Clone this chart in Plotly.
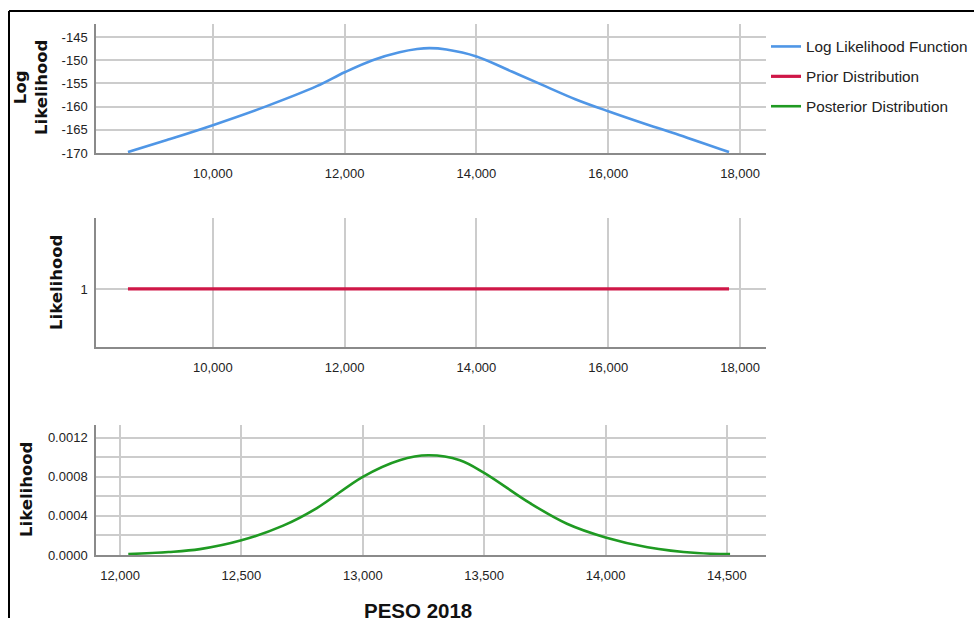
import plotly.graph_objects as go

# Log likelihood function over PESO 2018
loglik_x = [8712, 9303, 10000, 10818, 11576, 12000, 12424, 12833, 13100, 13288,
            13545, 14000, 14545, 15060, 15500, 16000, 16576, 17076, 17833]
loglik_y = [-169.8, -167.2, -164.0, -159.9, -155.6, -152.6, -150.0, -148.3, -147.6, -147.4,
            -147.7, -149.2, -152.5, -155.7, -158.4, -161.0, -163.8, -166.1, -169.8]

# Prior distribution (flat)
prior_x = [8712, 17833]
prior_y = [1, 1]

# Posterior distribution
post_x = [12034, 12200, 12329, 12500, 12672, 12811, 13000, 13152, 13270, 13400,
          13500, 13689, 13841, 14000, 14173, 14377, 14513]
post_y = [0.00001, 0.00003, 0.00006, 0.00015, 0.00030, 0.00048, 0.00080, 0.00097, 0.00102, 0.00097,
          0.00084, 0.00053, 0.00032, 0.00018, 0.00008, 0.00002, 0.00001]

ll_ticks = [-170, -165, -160, -155, -150, -145]
ll_ticktext = ["-170", "-165", "-160", "-155", "-150", "-145"]
wide_xticks = [10000, 12000, 14000, 16000, 18000]
post_xticks = [12000, 12500, 13000, 13500, 14000, 14500]
post_yticks = [0.0, 0.0002, 0.0004, 0.0006, 0.0008, 0.0010, 0.0012]
post_yticktext = ["0.0000", "", "0.0004", "", "0.0008", "", "0.0012"]

# layout grid in screen pixels (viewport height as laid out by the page)
W, H = 974, 618
BLUE, RED, GREEN = "#4f96e6", "#cf1747", "#1f9a22"
GRID, AXIS = "#cccccc", "#8a8a8a"
SANS = "Liberation Sans, Arial, sans-serif"
BOLD_T = "DejaVu Sans, Verdana, sans-serif"


def px(x):
    return x / W


def py(y):
    return 1 - y / H


fig = go.Figure()
fig.add_trace(go.Scatter(x=loglik_x, y=loglik_y, mode="lines", name="Log Likelihood Function",
                         line=dict(color=BLUE, width=2.6, shape="spline", smoothing=1.0),
                         xaxis="x", yaxis="y", legendgroup="a"))
fig.add_trace(go.Scatter(x=prior_x, y=prior_y, mode="lines", name="Prior Distribution",
                         line=dict(color=RED, width=3.2), xaxis="x2", yaxis="y2", legendgroup="b"))
fig.add_trace(go.Scatter(x=post_x, y=post_y, mode="lines", name="Posterior Distribution",
                         line=dict(color=GREEN, width=2.6, shape="spline", smoothing=1.0),
                         xaxis="x3", yaxis="y3", legendgroup="c"))

tick_font = dict(family=SANS, size=13, color="#222222")
common_x = dict(showgrid=True, gridcolor=GRID, gridwidth=1.5, zeroline=False, showline=True,
                linecolor=AXIS, linewidth=2.2, ticks="outside", ticklen=7, tickcolor="rgba(0,0,0,0)",
                tickfont=tick_font, fixedrange=True)
common_y = dict(showgrid=True, gridcolor=GRID, gridwidth=1.5, zeroline=False, showline=True,
                linecolor=AXIS, linewidth=1.5, ticks="outside", ticklen=4, tickcolor="rgba(0,0,0,0)",
                tickfont=tick_font, fixedrange=True)

xd = [px(96), px(766)]
fig.update_layout(
    autosize=True, margin=dict(l=0, r=0, t=0, b=0),
    paper_bgcolor="white", plot_bgcolor="white",
    xaxis=dict(common_x, domain=xd, range=[8227, 18394], tickvals=wide_xticks, tickformat=",d", anchor="y"),
    yaxis=dict(common_y, domain=[py(153), py(24)], range=[-170, -142.2], tickvals=ll_ticks,
               ticktext=ll_ticktext, anchor="x"),
    xaxis2=dict(common_x, domain=xd, range=[8227, 18394], tickvals=wide_xticks, tickformat=",d", anchor="y2"),
    yaxis2=dict(common_y, domain=[py(347), py(218)], range=[0.55, 1.55], tickvals=[1], ticktext=["1"],
                anchor="x2"),
    xaxis3=dict(common_x, domain=xd, range=[11901, 14661], tickvals=post_xticks, tickformat=",d", anchor="y3"),
    yaxis3=dict(common_y, domain=[py(555), py(425)], range=[0, 0.00133], tickvals=post_yticks,
                ticktext=post_yticktext, anchor="x3"),
    showlegend=True,
    legend=dict(x=px(766), y=py(30), xanchor="left", yanchor="top", traceorder="grouped",
                tracegroupgap=7, font=dict(family=SANS, size=15.3, color="#222222"),
                bgcolor="rgba(0,0,0,0)", borderwidth=0, itemwidth=30),
)

title_font = dict(family=BOLD_T, size=16.5, color="#111111")
fig.add_annotation(x=px(31), y=py(88), xref="paper", yref="paper", text="<b>Log<br>Likelihood</b>",
                   textangle=-90, showarrow=False, font=title_font, xanchor="center", yanchor="middle")
fig.add_annotation(x=px(57), y=py(283), xref="paper", yref="paper", text="<b>Likelihood</b>",
                   textangle=-90, showarrow=False, font=title_font, xanchor="center", yanchor="middle")
fig.add_annotation(x=px(26), y=py(490), xref="paper", yref="paper", text="<b>Likelihood</b>",
                   textangle=-90, showarrow=False, font=title_font, xanchor="center", yanchor="middle")
fig.add_annotation(x=px(418), y=py(610), xref="paper", yref="paper", text="<b>PESO 2018</b>",
                   showarrow=False, font=dict(family=SANS, size=20.5, color="#111111"),
                   xanchor="center", yanchor="middle")

# Outer frame: top and left edges
fig.add_shape(type="line", xref="paper", yref="paper", x0=px(9), x1=1.0, y0=py(11), y1=py(11),
              line=dict(color="black", width=2))
fig.add_shape(type="line", xref="paper", yref="paper", x0=px(9), x1=px(9), y0=py(11), y1=0,
              line=dict(color="black", width=2))

fig.write_html("out.html", default_width="100vw", default_height="100vh",
               config={"responsive": True})
